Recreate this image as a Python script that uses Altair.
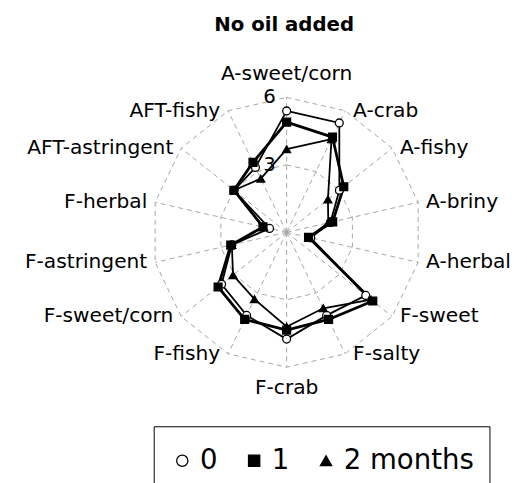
import math
import altair as alt
import pandas as pd

attributes = ["A-sweet/corn", "A-crab", "A-fishy", "A-briny", "A-herbal", "F-sweet",
              "F-salty", "F-crab", "F-fishy", "F-sweet/corn", "F-astringent", "F-herbal",
              "AFT-astringent", "AFT-fishy"]
series_names = ["0", "1", "2 months"]
m0 = [5.4, 5.4, 3.0, 2.0, 1.1, 4.5, 4.1, 4.75, 4.1, 3.7, 2.5, 0.78, 3.0, 3.2]
m1 = [4.9, 4.7, 3.25, 2.1, 1.0, 4.9, 4.3, 4.35, 4.3, 3.9, 2.55, 1.08, 3.0, 3.45]
m2 = [3.7, 4.6, 2.35, 1.9, 1.0, 4.8, 3.75, 4.2, 3.3, 3.05, 2.5, 1.05, 3.0, 2.65]
ring_values = [3, 6]
ring_labels = ["3", "6"]
r_max = 6

N = len(attributes)

# ---- data tables built from the arrays ----
rows = []
for name, vals in zip(series_names, [m0, m1, m2]):
    for i in range(N + 1):  # closing point repeats the first
        rows.append({"series": name, "idx": i, "attr": attributes[i % N], "value": vals[i % N]})
df = pd.DataFrame(rows)

ring_rows = []
for rv in ring_values:
    for i in range(N + 1):
        ring_rows.append({"ring": rv, "idx": i, "value": rv})
rings = pd.DataFrame(ring_rows)

axes_df = pd.DataFrame({"idx": list(range(N)), "attr": attributes, "value": [r_max] * N})
ticks_df = pd.DataFrame({"value": ring_values, "label": ring_labels, "idx": [0, 0]})

ang = f"datum.idx * 2 * PI / {N}"
calc_x = f"datum.value * sin({ang})"
calc_y = f"datum.value * cos({ang})"

# ---- geometry of the view ----
W, H = 519, 490
cx, cy = 283, 224          # centre of the radar in plot px
k = 137 / r_max            # px per unit
xs = alt.Scale(domain=[-cx / k, (W - cx) / k], nice=False, zero=False)
ys = alt.Scale(domain=[-(H - cy) / k, cy / k], nice=False, zero=False)

FONT = "DejaVu Sans"
GRID = "#a6a6a6"
LFS = 20.5

def xy(base):
    return base.transform_calculate(x=calc_x, y=calc_y)

X = alt.X("x:Q", scale=xs, axis=None)
Y = alt.Y("y:Q", scale=ys, axis=None)

ring_layer = xy(alt.Chart(rings)).mark_line(
    color=GRID, strokeWidth=1, strokeDash=[5, 4]
).encode(x=X, y=Y, detail="ring:N", order="idx:Q")

spokes = alt.Chart(axes_df).transform_calculate(
    x0="0", y0="0", x=calc_x, y=calc_y
).mark_rule(color=GRID, strokeWidth=1, strokeDash=[5, 4]).encode(
    x=alt.X("x0:Q", scale=xs, axis=None), y=alt.Y("y0:Q", scale=ys, axis=None),
    x2="x:Q", y2="y:Q")

def series_line(name, width):
    return xy(alt.Chart(df)).transform_filter(alt.datum.series == name).mark_line(
        color="black", strokeWidth=width
    ).encode(x=X, y=Y, order="idx:Q")

line0 = series_line("0", 1.8)
line1 = series_line("1", 2.8)
line2 = series_line("2 months", 1.8)

legend_spec = alt.Legend(title="\u00a0", titleFontSize=5, titlePadding=1,
                         orient="none", legendX=148, legendY=421,
                         direction="horizontal", strokeColor="black",
                         padding=15, labelFont=FONT, labelFontSize=28,
                         labelColor="black", symbolSize=130,
                         symbolStrokeColor="black", symbolStrokeWidth=1.3,
                         columnPadding=23, labelOffset=4)

points = xy(alt.Chart(df)).transform_filter(alt.datum.idx < N).mark_point(
    filled=False, strokeWidth=1.3, opacity=1, size=64
).encode(
    x=X, y=Y,
    shape=alt.Shape("series:N", scale=alt.Scale(domain=series_names,
                    range=["circle", "square", "triangle-up"]), legend=legend_spec),
    fill=alt.Fill("series:N", scale=alt.Scale(domain=series_names,
                  range=["white", "black", "black"]), legend=legend_spec),
    stroke=alt.Stroke("series:N", scale=alt.Scale(domain=series_names,
                      range=["black", "black", "black"]), legend=legend_spec),
)

labels_base = xy(alt.Chart(axes_df))
lab_right = labels_base.transform_filter("datum.idx > 0 && datum.idx < 7").mark_text(
    align="left", baseline="middle", dx=8, font=FONT, fontSize=LFS, color="black"
).encode(x=X, y=Y, text="attr:N")
lab_left = labels_base.transform_filter("datum.idx > 7").mark_text(
    align="right", baseline="middle", dx=-8, font=FONT, fontSize=LFS, color="black"
).encode(x=X, y=Y, text="attr:N")
lab_top = labels_base.transform_filter("datum.idx == 0").mark_text(
    align="center", baseline="middle", dy=-24, font=FONT, fontSize=LFS, color="black"
).encode(x=X, y=Y, text="attr:N")
lab_bot = labels_base.transform_filter("datum.idx == 7").mark_text(
    align="center", baseline="middle", dy=21, font=FONT, fontSize=LFS, color="black"
).encode(x=X, y=Y, text="attr:N")

tick_labels = xy(alt.Chart(ticks_df)).mark_text(
    align="right", baseline="middle", dx=-11, font=FONT, fontSize=20, color="black"
).encode(x=X, y=Y, text="label:N")

chart = alt.layer(
    ring_layer, spokes, tick_labels, line0, line1, line2, points,
    lab_right, lab_left, lab_top, lab_bot
).properties(
    width=W, height=H,
    title=alt.TitleParams("No oil added", font=FONT, fontSize=20, fontWeight="bold",
                          anchor="middle", dx=21, dy=40, offset=0, baseline="alphabetic",
                          color="black"),
    autosize=alt.AutoSizeParams(type="none"),
    padding=0,
).configure_view(stroke=None)

chart.save("out.html", embed_options={"renderer": "svg", "actions": False})
